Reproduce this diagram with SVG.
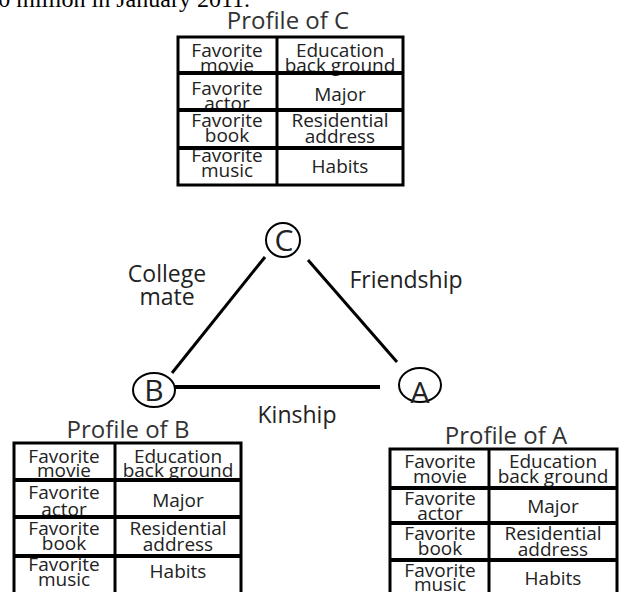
<svg xmlns="http://www.w3.org/2000/svg" width="621" height="592" viewBox="0 0 621 592">
<style>
.t{font-family:"Open Sans",Lato,"Liberation Sans",sans-serif;fill:#222;text-anchor:middle}
.cell{font-size:19px}
.title{font-size:24px;fill:#333}
.lbl{font-size:23px}
.node{font-size:30px}
.grid{stroke:#000;fill:none}
.ln{stroke:#000;stroke-width:3;fill:none}
</style>
<rect width="621" height="592" fill="#fff"/>
<text x="250" y="7" style="font-family:'Liberation Serif',serif;font-size:24px;fill:#000" text-anchor="end">0 million in January 2011.</text>

<g id="connectors">
<line class="ln" x1="172" y1="373" x2="265" y2="257"/>
<line class="ln" x1="308" y1="260" x2="397" y2="362"/>
<line class="ln" x1="175" y1="387" x2="380" y2="387" style="stroke-width:4"/>
<text class="t lbl" x="167" y="282">College</text>
<text class="t lbl" x="167" y="305">mate</text>
<text class="t lbl" x="406" y="288">Friendship</text>
<text class="t lbl" x="297" y="423">Kinship</text>
</g>

<g id="nodeC">
<ellipse cx="283" cy="240" rx="17" ry="17" fill="none" stroke="#000" stroke-width="2"/>
<text class="t node" x="284" y="251">C</text>
</g>
<g id="nodeB">
<ellipse cx="154" cy="390" rx="21" ry="17" fill="none" stroke="#000" stroke-width="2"/>
<text class="t node" x="154" y="401">B</text>
</g>
<g id="nodeA">
<ellipse cx="420" cy="385" rx="21" ry="17" fill="none" stroke="#000" stroke-width="2"/>
<text class="t node" x="420" y="403">A</text>
</g>

<g id="profileC">
<text class="t title" x="288" y="29">Profile of C</text>
<rect x="178" y="37" width="225" height="148" fill="#fff"/>
<g class="t cell">
<text x="227" y="57">Favorite</text><text x="227" y="72">movie</text>
<text x="340" y="57">Education</text><text x="340" y="72">back ground</text>
<text x="227" y="95">Favorite</text><text x="227" y="110">actor</text>
<text x="340" y="101">Major</text>
<text x="227" y="127">Favorite</text><text x="227" y="142">book</text>
<text x="340" y="127">Residential</text><text x="340" y="143">address</text>
<text x="227" y="162">Favorite</text><text x="227" y="177">music</text>
<text x="340" y="173">Habits</text>
</g>
<rect class="grid" x="178" y="37" width="225" height="148" stroke-width="3"/>
<line class="grid" x1="277" y1="37" x2="277" y2="185" stroke-width="3"/>
<line class="grid" x1="178" y1="73" x2="403" y2="73" stroke-width="4"/>
<line class="grid" x1="178" y1="110" x2="403" y2="110" stroke-width="4"/>
<line class="grid" x1="178" y1="148" x2="403" y2="148" stroke-width="4"/>
</g>

<g id="profileB">
<text class="t title" x="128" y="438">Profile of B</text>
<rect x="14" y="443" width="227" height="152" fill="#fff"/>
<g class="t cell">
<text x="64" y="463">Favorite</text><text x="64" y="477">movie</text>
<text x="178" y="463">Education</text><text x="178" y="477">back ground</text>
<text x="64" y="499">Favorite</text><text x="64" y="516">actor</text>
<text x="178" y="507">Major</text>
<text x="64" y="535">Favorite</text><text x="64" y="550">book</text>
<text x="178" y="535">Residential</text><text x="178" y="551">address</text>
<text x="64" y="571">Favorite</text><text x="64" y="586">music</text>
<text x="178" y="578">Habits</text>
</g>
<rect class="grid" x="14" y="443" width="227" height="152" stroke-width="3"/>
<line class="grid" x1="115" y1="443" x2="115" y2="595" stroke-width="3"/>
<line class="grid" x1="14" y1="480" x2="241" y2="480" stroke-width="4"/>
<line class="grid" x1="14" y1="517" x2="241" y2="517" stroke-width="4"/>
<line class="grid" x1="14" y1="556" x2="241" y2="556" stroke-width="4"/>
</g>

<g id="profileA">
<text class="t title" x="506" y="444">Profile of A</text>
<rect x="390" y="449" width="227" height="146" fill="#fff"/>
<g class="t cell">
<text x="440" y="468">Favorite</text><text x="440" y="483">movie</text>
<text x="553" y="468">Education</text><text x="553" y="483">back ground</text>
<text x="440" y="505">Favorite</text><text x="440" y="520">actor</text>
<text x="553" y="513">Major</text>
<text x="440" y="540">Favorite</text><text x="440" y="555">book</text>
<text x="553" y="540">Residential</text><text x="553" y="556">address</text>
<text x="440" y="577">Favorite</text><text x="440" y="591">music</text>
<text x="553" y="585">Habits</text>
</g>
<rect class="grid" x="390" y="449" width="227" height="146" stroke-width="3"/>
<line class="grid" x1="489" y1="449" x2="489" y2="595" stroke-width="3"/>
<line class="grid" x1="390" y1="488" x2="617" y2="488" stroke-width="4"/>
<line class="grid" x1="390" y1="523" x2="617" y2="523" stroke-width="4"/>
<line class="grid" x1="390" y1="560" x2="617" y2="560" stroke-width="4"/>
</g>
</svg>
